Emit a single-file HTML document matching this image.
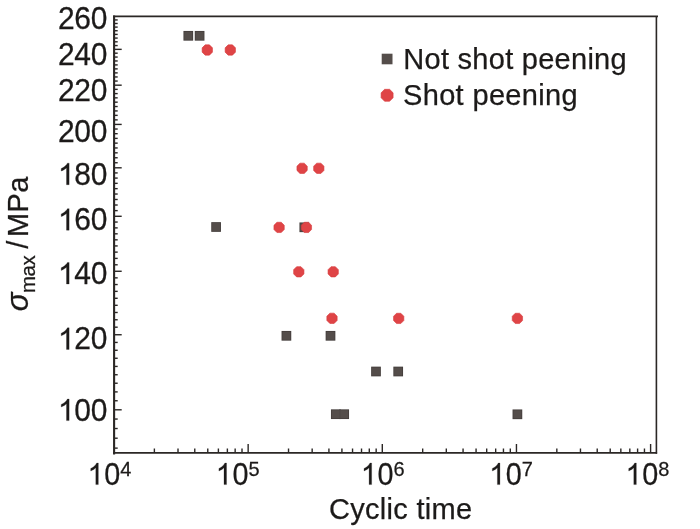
<!DOCTYPE html>
<html><head><meta charset="utf-8"><style>
html,body{margin:0;padding:0;background:#fff;width:700px;height:529px;overflow:hidden}
svg{display:block;will-change:transform;filter:blur(0.3px)}
.d{font-family:"Liberation Sans",sans-serif;fill:#1c1a19;stroke:#1c1a19;stroke-width:0.25px}
.w{font-family:"Liberation Sans",sans-serif;font-size:29px;fill:#1c1a19;stroke:#1c1a19;stroke-width:0.25px}
.sig{font-family:"Liberation Sans",sans-serif;font-style:italic;font-size:32px;fill:#1c1a19;stroke:#1c1a19;stroke-width:0.25px}
</style></head><body>
<svg width="700" height="529" viewBox="0 0 700 529">
<rect width="700" height="529" fill="#fff"/>
<line x1="114.1" y1="400.75" x2="117.70" y2="400.75" stroke="#2b2725" stroke-width="1.4"/>
<line x1="114.1" y1="391.90" x2="117.70" y2="391.90" stroke="#2b2725" stroke-width="1.4"/>
<line x1="114.1" y1="383.23" x2="117.70" y2="383.23" stroke="#2b2725" stroke-width="1.4"/>
<line x1="114.1" y1="374.74" x2="117.70" y2="374.74" stroke="#2b2725" stroke-width="1.4"/>
<line x1="114.1" y1="366.42" x2="117.70" y2="366.42" stroke="#2b2725" stroke-width="1.4"/>
<line x1="114.1" y1="358.27" x2="117.70" y2="358.27" stroke="#2b2725" stroke-width="1.4"/>
<line x1="114.1" y1="350.27" x2="117.70" y2="350.27" stroke="#2b2725" stroke-width="1.4"/>
<line x1="114.1" y1="342.43" x2="117.70" y2="342.43" stroke="#2b2725" stroke-width="1.4"/>
<line x1="114.1" y1="327.18" x2="117.70" y2="327.18" stroke="#2b2725" stroke-width="1.4"/>
<line x1="114.1" y1="319.76" x2="117.70" y2="319.76" stroke="#2b2725" stroke-width="1.4"/>
<line x1="114.1" y1="312.48" x2="117.70" y2="312.48" stroke="#2b2725" stroke-width="1.4"/>
<line x1="114.1" y1="305.32" x2="117.70" y2="305.32" stroke="#2b2725" stroke-width="1.4"/>
<line x1="114.1" y1="298.28" x2="117.70" y2="298.28" stroke="#2b2725" stroke-width="1.4"/>
<line x1="114.1" y1="291.36" x2="117.70" y2="291.36" stroke="#2b2725" stroke-width="1.4"/>
<line x1="114.1" y1="284.55" x2="117.70" y2="284.55" stroke="#2b2725" stroke-width="1.4"/>
<line x1="114.1" y1="277.86" x2="117.70" y2="277.86" stroke="#2b2725" stroke-width="1.4"/>
<line x1="114.1" y1="264.79" x2="117.70" y2="264.79" stroke="#2b2725" stroke-width="1.4"/>
<line x1="114.1" y1="258.40" x2="117.70" y2="258.40" stroke="#2b2725" stroke-width="1.4"/>
<line x1="114.1" y1="252.12" x2="117.70" y2="252.12" stroke="#2b2725" stroke-width="1.4"/>
<line x1="114.1" y1="245.93" x2="117.70" y2="245.93" stroke="#2b2725" stroke-width="1.4"/>
<line x1="114.1" y1="239.83" x2="117.70" y2="239.83" stroke="#2b2725" stroke-width="1.4"/>
<line x1="114.1" y1="233.82" x2="117.70" y2="233.82" stroke="#2b2725" stroke-width="1.4"/>
<line x1="114.1" y1="227.89" x2="117.70" y2="227.89" stroke="#2b2725" stroke-width="1.4"/>
<line x1="114.1" y1="222.05" x2="117.70" y2="222.05" stroke="#2b2725" stroke-width="1.4"/>
<line x1="114.1" y1="210.62" x2="117.70" y2="210.62" stroke="#2b2725" stroke-width="1.4"/>
<line x1="114.1" y1="205.01" x2="117.70" y2="205.01" stroke="#2b2725" stroke-width="1.4"/>
<line x1="114.1" y1="199.49" x2="117.70" y2="199.49" stroke="#2b2725" stroke-width="1.4"/>
<line x1="114.1" y1="194.03" x2="117.70" y2="194.03" stroke="#2b2725" stroke-width="1.4"/>
<line x1="114.1" y1="188.65" x2="117.70" y2="188.65" stroke="#2b2725" stroke-width="1.4"/>
<line x1="114.1" y1="183.34" x2="117.70" y2="183.34" stroke="#2b2725" stroke-width="1.4"/>
<line x1="114.1" y1="178.09" x2="117.70" y2="178.09" stroke="#2b2725" stroke-width="1.4"/>
<line x1="114.1" y1="172.92" x2="117.70" y2="172.92" stroke="#2b2725" stroke-width="1.4"/>
<line x1="114.1" y1="162.75" x2="117.70" y2="162.75" stroke="#2b2725" stroke-width="1.4"/>
<line x1="114.1" y1="157.76" x2="117.70" y2="157.76" stroke="#2b2725" stroke-width="1.4"/>
<line x1="114.1" y1="152.83" x2="117.70" y2="152.83" stroke="#2b2725" stroke-width="1.4"/>
<line x1="114.1" y1="147.96" x2="117.70" y2="147.96" stroke="#2b2725" stroke-width="1.4"/>
<line x1="114.1" y1="143.14" x2="117.70" y2="143.14" stroke="#2b2725" stroke-width="1.4"/>
<line x1="114.1" y1="138.38" x2="117.70" y2="138.38" stroke="#2b2725" stroke-width="1.4"/>
<line x1="114.1" y1="133.68" x2="117.70" y2="133.68" stroke="#2b2725" stroke-width="1.4"/>
<line x1="114.1" y1="129.02" x2="117.70" y2="129.02" stroke="#2b2725" stroke-width="1.4"/>
<line x1="114.1" y1="119.87" x2="117.70" y2="119.87" stroke="#2b2725" stroke-width="1.4"/>
<line x1="114.1" y1="115.37" x2="117.70" y2="115.37" stroke="#2b2725" stroke-width="1.4"/>
<line x1="114.1" y1="110.92" x2="117.70" y2="110.92" stroke="#2b2725" stroke-width="1.4"/>
<line x1="114.1" y1="106.52" x2="117.70" y2="106.52" stroke="#2b2725" stroke-width="1.4"/>
<line x1="114.1" y1="102.16" x2="117.70" y2="102.16" stroke="#2b2725" stroke-width="1.4"/>
<line x1="114.1" y1="97.85" x2="117.70" y2="97.85" stroke="#2b2725" stroke-width="1.4"/>
<line x1="114.1" y1="93.59" x2="117.70" y2="93.59" stroke="#2b2725" stroke-width="1.4"/>
<line x1="114.1" y1="89.36" x2="117.70" y2="89.36" stroke="#2b2725" stroke-width="1.4"/>
<line x1="114.1" y1="81.05" x2="117.70" y2="81.05" stroke="#2b2725" stroke-width="1.4"/>
<line x1="114.1" y1="76.95" x2="117.70" y2="76.95" stroke="#2b2725" stroke-width="1.4"/>
<line x1="114.1" y1="72.89" x2="117.70" y2="72.89" stroke="#2b2725" stroke-width="1.4"/>
<line x1="114.1" y1="68.88" x2="117.70" y2="68.88" stroke="#2b2725" stroke-width="1.4"/>
<line x1="114.1" y1="64.90" x2="117.70" y2="64.90" stroke="#2b2725" stroke-width="1.4"/>
<line x1="114.1" y1="60.96" x2="117.70" y2="60.96" stroke="#2b2725" stroke-width="1.4"/>
<line x1="114.1" y1="57.06" x2="117.70" y2="57.06" stroke="#2b2725" stroke-width="1.4"/>
<line x1="114.1" y1="53.19" x2="117.70" y2="53.19" stroke="#2b2725" stroke-width="1.4"/>
<line x1="114.1" y1="45.57" x2="117.70" y2="45.57" stroke="#2b2725" stroke-width="1.4"/>
<line x1="114.1" y1="41.81" x2="117.70" y2="41.81" stroke="#2b2725" stroke-width="1.4"/>
<line x1="114.1" y1="38.08" x2="117.70" y2="38.08" stroke="#2b2725" stroke-width="1.4"/>
<line x1="114.1" y1="34.39" x2="117.70" y2="34.39" stroke="#2b2725" stroke-width="1.4"/>
<line x1="114.1" y1="30.73" x2="117.70" y2="30.73" stroke="#2b2725" stroke-width="1.4"/>
<line x1="114.1" y1="27.10" x2="117.70" y2="27.10" stroke="#2b2725" stroke-width="1.4"/>
<line x1="114.1" y1="23.50" x2="117.70" y2="23.50" stroke="#2b2725" stroke-width="1.4"/>
<line x1="114.1" y1="19.94" x2="117.70" y2="19.94" stroke="#2b2725" stroke-width="1.4"/>
<line x1="114.1" y1="419.05" x2="117.70" y2="419.05" stroke="#2b2725" stroke-width="1.4"/>
<line x1="114.1" y1="428.52" x2="117.70" y2="428.52" stroke="#2b2725" stroke-width="1.4"/>
<line x1="114.1" y1="438.21" x2="117.70" y2="438.21" stroke="#2b2725" stroke-width="1.4"/>
<line x1="114.1" y1="448.13" x2="117.70" y2="448.13" stroke="#2b2725" stroke-width="1.4"/>
<line x1="114.1" y1="409.80" x2="121.70" y2="409.80" stroke="#2b2725" stroke-width="1.4"/>
<line x1="114.1" y1="334.74" x2="121.70" y2="334.74" stroke="#2b2725" stroke-width="1.4"/>
<line x1="114.1" y1="271.27" x2="121.70" y2="271.27" stroke="#2b2725" stroke-width="1.4"/>
<line x1="114.1" y1="216.29" x2="121.70" y2="216.29" stroke="#2b2725" stroke-width="1.4"/>
<line x1="114.1" y1="167.80" x2="121.70" y2="167.80" stroke="#2b2725" stroke-width="1.4"/>
<line x1="114.1" y1="124.42" x2="121.70" y2="124.42" stroke="#2b2725" stroke-width="1.4"/>
<line x1="114.1" y1="85.18" x2="121.70" y2="85.18" stroke="#2b2725" stroke-width="1.4"/>
<line x1="114.1" y1="49.36" x2="121.70" y2="49.36" stroke="#2b2725" stroke-width="1.4"/>
<line x1="154.38" y1="452.8" x2="154.38" y2="448.50" stroke="#2b2725" stroke-width="1.4"/>
<line x1="178.01" y1="452.8" x2="178.01" y2="448.50" stroke="#2b2725" stroke-width="1.4"/>
<line x1="194.77" y1="452.8" x2="194.77" y2="448.50" stroke="#2b2725" stroke-width="1.4"/>
<line x1="207.77" y1="452.8" x2="207.77" y2="448.50" stroke="#2b2725" stroke-width="1.4"/>
<line x1="218.39" y1="452.8" x2="218.39" y2="448.50" stroke="#2b2725" stroke-width="1.4"/>
<line x1="227.37" y1="452.8" x2="227.37" y2="448.50" stroke="#2b2725" stroke-width="1.4"/>
<line x1="235.15" y1="452.8" x2="235.15" y2="448.50" stroke="#2b2725" stroke-width="1.4"/>
<line x1="242.01" y1="452.8" x2="242.01" y2="448.50" stroke="#2b2725" stroke-width="1.4"/>
<line x1="288.53" y1="452.8" x2="288.53" y2="448.50" stroke="#2b2725" stroke-width="1.4"/>
<line x1="312.16" y1="452.8" x2="312.16" y2="448.50" stroke="#2b2725" stroke-width="1.4"/>
<line x1="328.92" y1="452.8" x2="328.92" y2="448.50" stroke="#2b2725" stroke-width="1.4"/>
<line x1="341.92" y1="452.8" x2="341.92" y2="448.50" stroke="#2b2725" stroke-width="1.4"/>
<line x1="352.54" y1="452.8" x2="352.54" y2="448.50" stroke="#2b2725" stroke-width="1.4"/>
<line x1="361.52" y1="452.8" x2="361.52" y2="448.50" stroke="#2b2725" stroke-width="1.4"/>
<line x1="369.30" y1="452.8" x2="369.30" y2="448.50" stroke="#2b2725" stroke-width="1.4"/>
<line x1="376.16" y1="452.8" x2="376.16" y2="448.50" stroke="#2b2725" stroke-width="1.4"/>
<line x1="422.68" y1="452.8" x2="422.68" y2="448.50" stroke="#2b2725" stroke-width="1.4"/>
<line x1="446.31" y1="452.8" x2="446.31" y2="448.50" stroke="#2b2725" stroke-width="1.4"/>
<line x1="463.07" y1="452.8" x2="463.07" y2="448.50" stroke="#2b2725" stroke-width="1.4"/>
<line x1="476.07" y1="452.8" x2="476.07" y2="448.50" stroke="#2b2725" stroke-width="1.4"/>
<line x1="486.69" y1="452.8" x2="486.69" y2="448.50" stroke="#2b2725" stroke-width="1.4"/>
<line x1="495.67" y1="452.8" x2="495.67" y2="448.50" stroke="#2b2725" stroke-width="1.4"/>
<line x1="503.45" y1="452.8" x2="503.45" y2="448.50" stroke="#2b2725" stroke-width="1.4"/>
<line x1="510.31" y1="452.8" x2="510.31" y2="448.50" stroke="#2b2725" stroke-width="1.4"/>
<line x1="556.83" y1="452.8" x2="556.83" y2="448.50" stroke="#2b2725" stroke-width="1.4"/>
<line x1="580.46" y1="452.8" x2="580.46" y2="448.50" stroke="#2b2725" stroke-width="1.4"/>
<line x1="597.22" y1="452.8" x2="597.22" y2="448.50" stroke="#2b2725" stroke-width="1.4"/>
<line x1="610.22" y1="452.8" x2="610.22" y2="448.50" stroke="#2b2725" stroke-width="1.4"/>
<line x1="620.84" y1="452.8" x2="620.84" y2="448.50" stroke="#2b2725" stroke-width="1.4"/>
<line x1="629.82" y1="452.8" x2="629.82" y2="448.50" stroke="#2b2725" stroke-width="1.4"/>
<line x1="637.60" y1="452.8" x2="637.60" y2="448.50" stroke="#2b2725" stroke-width="1.4"/>
<line x1="644.46" y1="452.8" x2="644.46" y2="448.50" stroke="#2b2725" stroke-width="1.4"/>
<line x1="248.15" y1="452.8" x2="248.15" y2="444.00" stroke="#2b2725" stroke-width="1.4"/>
<line x1="382.30" y1="452.8" x2="382.30" y2="444.00" stroke="#2b2725" stroke-width="1.4"/>
<line x1="516.45" y1="452.8" x2="516.45" y2="444.00" stroke="#2b2725" stroke-width="1.4"/>
<line x1="650.60" y1="452.8" x2="650.60" y2="444.00" stroke="#2b2725" stroke-width="1.4"/>
<line x1="114.1" y1="15.499999999999998" x2="114.1" y2="454.5" stroke="#2b2725" stroke-width="2.1"/>
<line x1="113.1" y1="452.8" x2="657.1" y2="452.8" stroke="#2b2725" stroke-width="1.8"/>
<line x1="113.1" y1="16.4" x2="658" y2="16.4" stroke="#2b2725" stroke-width="1.8"/>
<line x1="656.4" y1="16.4" x2="656.4" y2="453.7" stroke="#2b2725" stroke-width="1.6"/>
<text transform="translate(57.95,29.0) scale(1.0,1.04)" class="d" style="font-size:30px">2</text>
<text transform="translate(74.35,29.0) scale(1.0,1.04)" class="d" style="font-size:30px">6</text>
<text transform="translate(90.75,29.0) scale(1.0,1.04)" class="d" style="font-size:30px">0</text>
<text transform="translate(57.95,64.5) scale(1.0,1.04)" class="d" style="font-size:30px">2</text>
<text transform="translate(74.35,64.5) scale(1.0,1.04)" class="d" style="font-size:30px">4</text>
<text transform="translate(90.75,64.5) scale(1.0,1.04)" class="d" style="font-size:30px">0</text>
<text transform="translate(57.95,101.2) scale(1.0,1.04)" class="d" style="font-size:30px">2</text>
<text transform="translate(74.35,101.2) scale(1.0,1.04)" class="d" style="font-size:30px">2</text>
<text transform="translate(90.75,101.2) scale(1.0,1.04)" class="d" style="font-size:30px">0</text>
<text transform="translate(57.95,142.0) scale(1.0,1.04)" class="d" style="font-size:30px">2</text>
<text transform="translate(74.35,142.0) scale(1.0,1.04)" class="d" style="font-size:30px">0</text>
<text transform="translate(90.75,142.0) scale(1.0,1.04)" class="d" style="font-size:30px">0</text>
<path transform="translate(57.95,184.7) scale(0.01465,-0.01465)" d="M763 0L583 0L583 1147Q518 1085 465 1054Q412 1023 359 992Q306 961 222 930L222 1104Q373 1175 429.5 1225.5Q486 1276 542.5 1326.5Q599 1377 646 1472L763 1472Z" fill="#1c1a19" stroke="#1c1a19" stroke-width="17.1"/>
<text transform="translate(74.35,184.7) scale(1.0,1.04)" class="d" style="font-size:30px">8</text>
<text transform="translate(90.75,184.7) scale(1.0,1.04)" class="d" style="font-size:30px">0</text>
<path transform="translate(57.95,230.2) scale(0.01465,-0.01465)" d="M763 0L583 0L583 1147Q518 1085 465 1054Q412 1023 359 992Q306 961 222 930L222 1104Q373 1175 429.5 1225.5Q486 1276 542.5 1326.5Q599 1377 646 1472L763 1472Z" fill="#1c1a19" stroke="#1c1a19" stroke-width="17.1"/>
<text transform="translate(74.35,230.2) scale(1.0,1.04)" class="d" style="font-size:30px">6</text>
<text transform="translate(90.75,230.2) scale(1.0,1.04)" class="d" style="font-size:30px">0</text>
<path transform="translate(57.95,284.0) scale(0.01465,-0.01465)" d="M763 0L583 0L583 1147Q518 1085 465 1054Q412 1023 359 992Q306 961 222 930L222 1104Q373 1175 429.5 1225.5Q486 1276 542.5 1326.5Q599 1377 646 1472L763 1472Z" fill="#1c1a19" stroke="#1c1a19" stroke-width="17.1"/>
<text transform="translate(74.35,284.0) scale(1.0,1.04)" class="d" style="font-size:30px">4</text>
<text transform="translate(90.75,284.0) scale(1.0,1.04)" class="d" style="font-size:30px">0</text>
<path transform="translate(57.95,349.4) scale(0.01465,-0.01465)" d="M763 0L583 0L583 1147Q518 1085 465 1054Q412 1023 359 992Q306 961 222 930L222 1104Q373 1175 429.5 1225.5Q486 1276 542.5 1326.5Q599 1377 646 1472L763 1472Z" fill="#1c1a19" stroke="#1c1a19" stroke-width="17.1"/>
<text transform="translate(74.35,349.4) scale(1.0,1.04)" class="d" style="font-size:30px">2</text>
<text transform="translate(90.75,349.4) scale(1.0,1.04)" class="d" style="font-size:30px">0</text>
<path transform="translate(57.95,420.6) scale(0.01465,-0.01465)" d="M763 0L583 0L583 1147Q518 1085 465 1054Q412 1023 359 992Q306 961 222 930L222 1104Q373 1175 429.5 1225.5Q486 1276 542.5 1326.5Q599 1377 646 1472L763 1472Z" fill="#1c1a19" stroke="#1c1a19" stroke-width="17.1"/>
<text transform="translate(74.35,420.6) scale(1.0,1.04)" class="d" style="font-size:30px">0</text>
<text transform="translate(90.75,420.6) scale(1.0,1.04)" class="d" style="font-size:30px">0</text>
<path transform="translate(87.60,484.6) scale(0.01406,-0.01465)" d="M763 0L583 0L583 1147Q518 1085 465 1054Q412 1023 359 992Q306 961 222 930L222 1104Q373 1175 429.5 1225.5Q486 1276 542.5 1326.5Q599 1377 646 1472L763 1472Z" fill="#1c1a19" stroke="#1c1a19" stroke-width="17.1"/>
<text transform="translate(104.20,484.6) scale(0.96,1.04)" class="d" style="font-size:30px">0</text>
<text transform="translate(120.20,476.0) scale(1.0,1.04)" class="d" style="font-size:20px">4</text>
<path transform="translate(215.80,484.6) scale(0.01406,-0.01465)" d="M763 0L583 0L583 1147Q518 1085 465 1054Q412 1023 359 992Q306 961 222 930L222 1104Q373 1175 429.5 1225.5Q486 1276 542.5 1326.5Q599 1377 646 1472L763 1472Z" fill="#1c1a19" stroke="#1c1a19" stroke-width="17.1"/>
<text transform="translate(232.40,484.6) scale(0.96,1.04)" class="d" style="font-size:30px">0</text>
<text transform="translate(248.40,476.0) scale(1.0,1.04)" class="d" style="font-size:20px">5</text>
<path transform="translate(360.90,484.6) scale(0.01406,-0.01465)" d="M763 0L583 0L583 1147Q518 1085 465 1054Q412 1023 359 992Q306 961 222 930L222 1104Q373 1175 429.5 1225.5Q486 1276 542.5 1326.5Q599 1377 646 1472L763 1472Z" fill="#1c1a19" stroke="#1c1a19" stroke-width="17.1"/>
<text transform="translate(377.50,484.6) scale(0.96,1.04)" class="d" style="font-size:30px">0</text>
<text transform="translate(393.50,476.0) scale(1.0,1.04)" class="d" style="font-size:20px">6</text>
<path transform="translate(489.20,484.6) scale(0.01406,-0.01465)" d="M763 0L583 0L583 1147Q518 1085 465 1054Q412 1023 359 992Q306 961 222 930L222 1104Q373 1175 429.5 1225.5Q486 1276 542.5 1326.5Q599 1377 646 1472L763 1472Z" fill="#1c1a19" stroke="#1c1a19" stroke-width="17.1"/>
<text transform="translate(505.80,484.6) scale(0.96,1.04)" class="d" style="font-size:30px">0</text>
<text transform="translate(521.80,476.0) scale(1.0,1.04)" class="d" style="font-size:20px">7</text>
<path transform="translate(625.60,484.6) scale(0.01406,-0.01465)" d="M763 0L583 0L583 1147Q518 1085 465 1054Q412 1023 359 992Q306 961 222 930L222 1104Q373 1175 429.5 1225.5Q486 1276 542.5 1326.5Q599 1377 646 1472L763 1472Z" fill="#1c1a19" stroke="#1c1a19" stroke-width="17.1"/>
<text transform="translate(642.20,484.6) scale(0.96,1.04)" class="d" style="font-size:30px">0</text>
<text transform="translate(658.20,476.0) scale(1.0,1.04)" class="d" style="font-size:20px">8</text>
<text x="329" y="519.2" class="w" letter-spacing="0.3">Cyclic time</text>
<rect x="381.7" y="53.7" width="10.8" height="10.6" fill="#544d4a"/>
<polygon points="393.10,97.79 389.59,101.30 384.61,101.30 381.10,97.79 381.10,92.81 384.61,89.30 389.59,89.30 393.10,92.81" fill="#df4446" stroke="#d63a3c" stroke-width="0.6" stroke-linejoin="round"/>
<text x="403.3" y="69.3" class="w" letter-spacing="0.27">Not shot peening</text>
<text x="403" y="105.1" class="w" letter-spacing="0.34">Shot peening</text>
<g transform="translate(27.8,0) rotate(-90)">
<text x="-311.3" y="0.6" class="sig" style="font-size:31px">&#963;</text>
<text x="-293.1" y="7.0" class="w" style="font-size:20.4px" letter-spacing="-0.4">max</text>
<text x="-248.8" y="0" class="w">/</text>
<text x="-237.0" y="0" class="w" letter-spacing="0.4">MPa</text>
</g>
<rect x="183.45" y="30.95" width="9.70" height="9.70" fill="#433d3b"/>
<rect x="194.75" y="30.95" width="9.70" height="9.70" fill="#433d3b"/>
<rect x="211.25" y="222.15" width="9.70" height="9.70" fill="#433d3b"/>
<rect x="299.45" y="222.45" width="9.70" height="9.70" fill="#433d3b"/>
<rect x="281.55" y="330.95" width="9.70" height="9.70" fill="#433d3b"/>
<rect x="325.65" y="330.95" width="9.70" height="9.70" fill="#433d3b"/>
<rect x="371.15" y="366.65" width="9.70" height="9.70" fill="#433d3b"/>
<rect x="393.35" y="366.65" width="9.70" height="9.70" fill="#433d3b"/>
<rect x="330.95" y="409.35" width="9.70" height="9.70" fill="#433d3b"/>
<rect x="339.35" y="409.35" width="9.70" height="9.70" fill="#433d3b"/>
<rect x="512.55" y="409.45" width="9.70" height="9.70" fill="#433d3b"/>
<rect x="184.25" y="31.75" width="8.10" height="8.10" fill="#544d4a"/>
<rect x="195.55" y="31.75" width="8.10" height="8.10" fill="#544d4a"/>
<rect x="212.05" y="222.95" width="8.10" height="8.10" fill="#544d4a"/>
<rect x="300.25" y="223.25" width="8.10" height="8.10" fill="#544d4a"/>
<rect x="282.35" y="331.75" width="8.10" height="8.10" fill="#544d4a"/>
<rect x="326.45" y="331.75" width="8.10" height="8.10" fill="#544d4a"/>
<rect x="371.95" y="367.45" width="8.10" height="8.10" fill="#544d4a"/>
<rect x="394.15" y="367.45" width="8.10" height="8.10" fill="#544d4a"/>
<rect x="331.75" y="410.15" width="8.10" height="8.10" fill="#544d4a"/>
<rect x="340.15" y="410.15" width="8.10" height="8.10" fill="#544d4a"/>
<rect x="513.35" y="410.25" width="8.10" height="8.10" fill="#544d4a"/>
<polygon points="212.45,52.13 209.43,55.15 205.17,55.15 202.15,52.13 202.15,47.87 205.17,44.85 209.43,44.85 212.45,47.87" fill="#df4446" stroke="#d63a3c" stroke-width="0.6" stroke-linejoin="round"/>
<polygon points="235.45,52.13 232.43,55.15 228.17,55.15 225.15,52.13 225.15,47.87 228.17,44.85 232.43,44.85 235.45,47.87" fill="#df4446" stroke="#d63a3c" stroke-width="0.6" stroke-linejoin="round"/>
<polygon points="307.25,170.43 304.23,173.45 299.97,173.45 296.95,170.43 296.95,166.17 299.97,163.15 304.23,163.15 307.25,166.17" fill="#df4446" stroke="#d63a3c" stroke-width="0.6" stroke-linejoin="round"/>
<polygon points="323.95,170.43 320.93,173.45 316.67,173.45 313.65,170.43 313.65,166.17 316.67,163.15 320.93,163.15 323.95,166.17" fill="#df4446" stroke="#d63a3c" stroke-width="0.6" stroke-linejoin="round"/>
<polygon points="284.25,229.53 281.23,232.55 276.97,232.55 273.95,229.53 273.95,225.27 276.97,222.25 281.23,222.25 284.25,225.27" fill="#df4446" stroke="#d63a3c" stroke-width="0.6" stroke-linejoin="round"/>
<polygon points="311.55,229.53 308.53,232.55 304.27,232.55 301.25,229.53 301.25,225.27 304.27,222.25 308.53,222.25 311.55,225.27" fill="#df4446" stroke="#d63a3c" stroke-width="0.6" stroke-linejoin="round"/>
<polygon points="303.95,273.93 300.93,276.95 296.67,276.95 293.65,273.93 293.65,269.67 296.67,266.65 300.93,266.65 303.95,269.67" fill="#df4446" stroke="#d63a3c" stroke-width="0.6" stroke-linejoin="round"/>
<polygon points="338.35,273.93 335.33,276.95 331.07,276.95 328.05,273.93 328.05,269.67 331.07,266.65 335.33,266.65 338.35,269.67" fill="#df4446" stroke="#d63a3c" stroke-width="0.6" stroke-linejoin="round"/>
<polygon points="337.15,320.43 334.13,323.45 329.87,323.45 326.85,320.43 326.85,316.17 329.87,313.15 334.13,313.15 337.15,316.17" fill="#df4446" stroke="#d63a3c" stroke-width="0.6" stroke-linejoin="round"/>
<polygon points="403.85,320.53 400.83,323.55 396.57,323.55 393.55,320.53 393.55,316.27 396.57,313.25 400.83,313.25 403.85,316.27" fill="#df4446" stroke="#d63a3c" stroke-width="0.6" stroke-linejoin="round"/>
<polygon points="522.55,320.53 519.53,323.55 515.27,323.55 512.25,320.53 512.25,316.27 515.27,313.25 519.53,313.25 522.55,316.27" fill="#df4446" stroke="#d63a3c" stroke-width="0.6" stroke-linejoin="round"/>
</svg>
</body></html>
